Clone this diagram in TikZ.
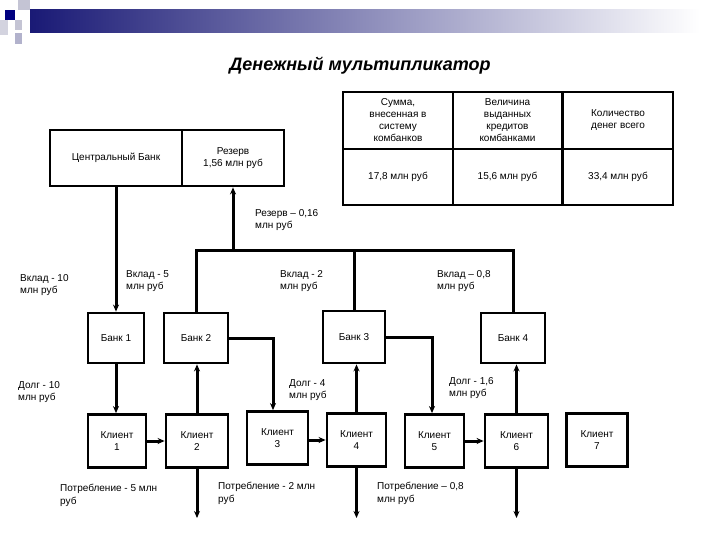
\documentclass[tikz,border=0pt]{standalone}
\usepackage{fontspec}
\setmainfont{Liberation Sans}
\usetikzlibrary{arrows.meta}
\begin{document}
\begin{tikzpicture}[x=1pt,y=-1pt,
  bx/.style={draw,line width=2.8pt,align=center,font=\fontsize{10}{12}\selectfont,inner sep=0},
  lb/.style={anchor=north west,align=left,font=\fontsize{10}{12.5}\selectfont,inner sep=0},
  ln/.style={line width=3pt},
  ar/.style={line width=3pt,-{Stealth[length=7pt,width=6pt]}}]
\useasboundingbox (0,0) rectangle (720,540);
% header decoration
\shade[left color=blue!40!black!90, right color=white] (30,10) rectangle (700,33);
\fill[blue!15!gray!40] (18,0) rectangle (30,10);
\fill[blue!50!black] (5,10) rectangle (15,20);
\fill[blue!15!gray!40] (15,20) rectangle (22,30);
\fill[blue!20!gray!50] (15,33) rectangle (22,44);
\fill[blue!15!gray!30] (0,20) rectangle (8,35);
\node[font=\bfseries\itshape\fontsize{18}{20}\selectfont] (title) at (360,66) {Денежный мультипликатор};
% central bank
\node[bx,minimum width=132pt,minimum height=56pt] (cb) at (116,158) {Центральный Банк};
\node[bx,minimum width=102pt,minimum height=56pt] (res) at (233,158) {Резерв\\1,56 млн руб};
% table
\node[bx,minimum width=110pt,minimum height=57pt] (t1) at (398,120.5) {Сумма,\\внесенная в\\систему\\комбанков};
\node[bx,minimum width=109pt,minimum height=57pt] (t2) at (507.5,120.5) {Величина\\выданных\\кредитов\\комбанками};
\node[bx,minimum width=110pt,minimum height=57pt] (t3) at (618,120.5) {Количество\\денег всего};
\node[bx,minimum width=110pt,minimum height=56pt] (t4) at (398,177) {17,8 млн руб};
\node[bx,minimum width=109pt,minimum height=56pt] (t5) at (507.5,177) {15,6 млн руб};
\node[bx,minimum width=110pt,minimum height=56pt] (t6) at (618,177) {33,4 млн руб};
% banks
\node[bx,minimum width=56pt,minimum height=50pt] (b1) at (116,338) {Банк 1};
\node[bx,minimum width=64pt,minimum height=50pt] (b2) at (196,338) {Банк 2};
\node[bx,minimum width=62pt,minimum height=52pt] (b3) at (354,337) {Банк 3};
\node[bx,minimum width=64pt,minimum height=50pt] (b4) at (513,338) {Банк 4};
% clients
\node[bx,minimum width=58pt,minimum height=53pt] (k1) at (117,441) {Клиент\\1};
\node[bx,minimum width=62pt,minimum height=53pt] (k2) at (197,441) {Клиент\\2};
\node[bx,minimum width=61pt,minimum height=53pt] (k3) at (277.5,438) {Клиент\\3};
\node[bx,minimum width=59pt,minimum height=53pt] (k4) at (356.5,440) {Клиент\\4};
\node[bx,minimum width=59pt,minimum height=53pt] (k5) at (434.5,441) {Клиент\\5};
\node[bx,minimum width=63pt,minimum height=53pt] (k6) at (516.5,441) {Клиент\\6};
\node[bx,minimum width=61pt,minimum height=53pt] (k7) at (597,440) {Клиент\\7};
% tree
\coordinate (tl) at (196,250); \coordinate (tm) at (233,250);
\coordinate (t3c) at (354,250); \coordinate (tr) at (513,250);
\draw[ln] (b2.north) -- (tl) -- (tr) -- (b4.north);
\draw[ln] (t3c) -- (b3.north);
\draw[ar] (tm) -- (res.south);
\draw[ar] (cb.south) -- (b1.north);
\draw[ar] (b1.south) -- (b1.south|-k1.north);
\draw[ar] (k2.north) -- (k2.north|-b2.south);
\draw[ar] (k4.north) -- (k4.north|-b3.south);
\draw[ar] (k6.north) -- (k6.north|-b4.south);
\coordinate (c2) at (273,338); \coordinate (c3) at (432,337);
\draw[ar] (b2.east) -- (c2) -- (c2|-k3.north);
\draw[ar] (b3.east) -- (c3) -- (c3|-k5.north);
\draw[ar] (k1) -- (k2);
\draw[ar] (k3.east|-k4.west) -- (k4.west);
\draw[ar] (k5.east|-k6.west) -- (k6.west);
\coordinate (e2) at (197,518); \coordinate (e4) at (356.5,518); \coordinate (e6) at (516.5,518);
\draw[ar] (k2.south) -- (e2);
\draw[ar] (k4.south) -- (e4);
\draw[ar] (k6.south) -- (e6);
% labels
\node[lb] (l1) at (255,209) {Резерв – 0,16\\млн руб};
\node[lb] (l2) at (20,274) {Вклад - 10\\млн руб};
\node[lb] (l3) at (126,270) {Вклад - 5\\млн руб};
\node[lb] (l4) at (280,270) {Вклад - 2\\млн руб};
\node[lb] (l5) at (437,270) {Вклад – 0,8\\млн руб};
\node[lb] (l6) at (18,381) {Долг - 10\\млн руб};
\node[lb] (l7) at (289,379) {Долг - 4\\млн руб};
\node[lb] (l8) at (449,377) {Долг - 1,6\\млн руб};
\node[lb] (l9) at (60,484) {Потребление - 5 млн\\руб};
\node[lb] (l10) at (218,482) {Потребление - 2 млн\\руб};
\node[lb] (l11) at (377,482) {Потребление – 0,8\\млн руб};
\end{tikzpicture}
\end{document}
